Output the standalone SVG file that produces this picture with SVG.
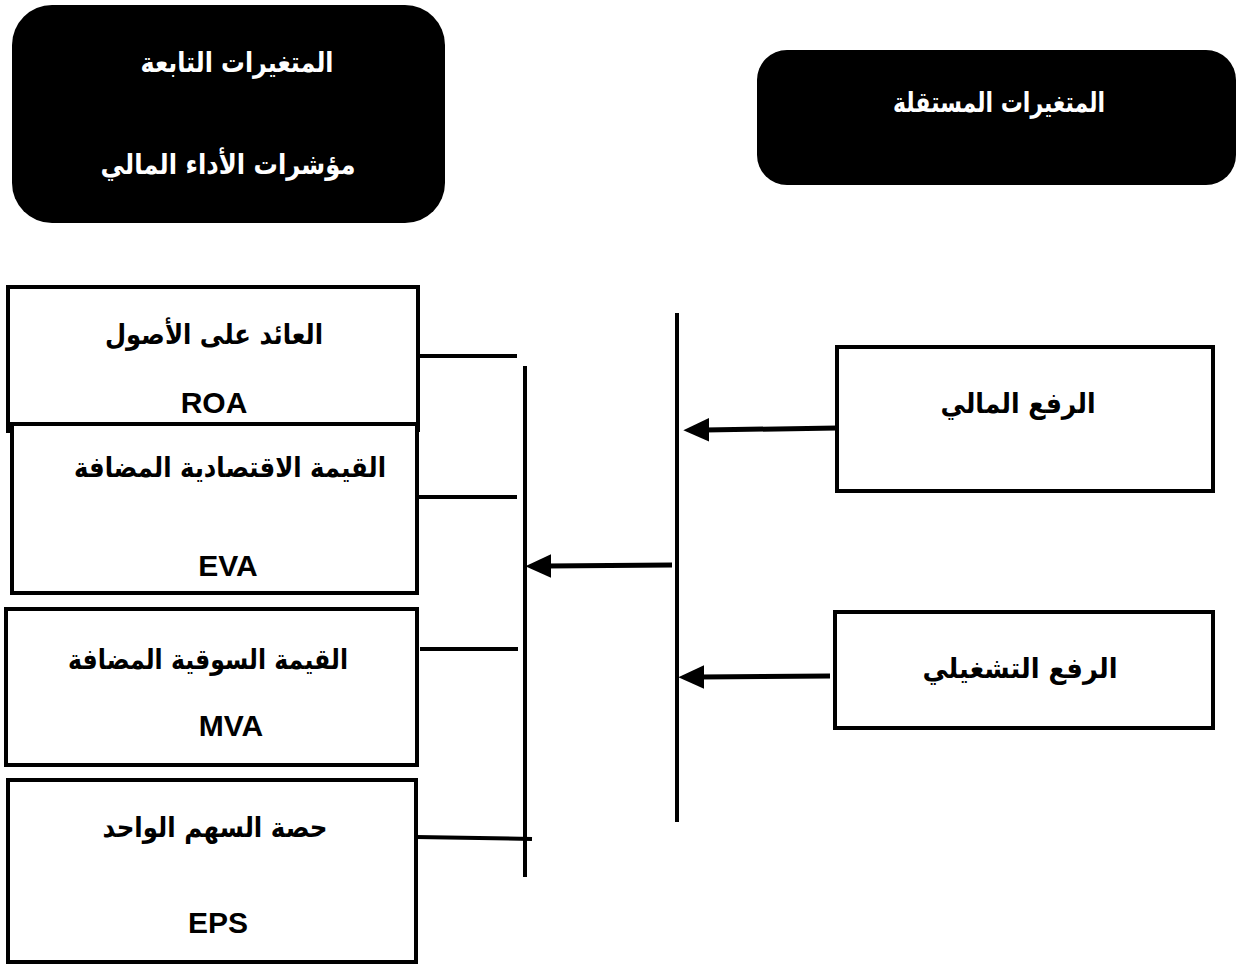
<svg xmlns="http://www.w3.org/2000/svg" width="1236" height="965" viewBox="0 0 1236 965">
<style>
.box{fill:#fff;stroke:#000;stroke-width:4;}
.hdr{fill:#000;stroke:none;}
.ar{font-family:"DejaVu Sans","Noto Sans",sans-serif;font-weight:bold;font-size:28px;text-anchor:middle;fill:#000;}
.arw{font-family:"DejaVu Sans","Noto Sans",sans-serif;font-weight:bold;font-size:28px;text-anchor:middle;fill:#fff;}
.lat{font-family:"Liberation Sans",Arial,sans-serif;font-weight:bold;font-size:30px;text-anchor:middle;fill:#000;}
.ln{stroke:#000;stroke-width:4;fill:none;}
.arrow{stroke:#000;stroke-width:5;fill:none;marker-end:url(#ah);}
</style>
<defs>
<marker id="ah" markerUnits="userSpaceOnUse" markerWidth="26" markerHeight="24" refX="4" refY="11" orient="auto" viewBox="0 0 24 22">
<path d="M0,0 L24,11 L0,22 z" fill="#000"/>
</marker>
</defs>
<rect width="1236" height="965" fill="#fff"/>

<g id="dependent-header">
<rect class="hdr" x="12" y="5" width="433" height="218" rx="40" ry="40"/>
<text class="arw" x="237" y="72" textLength="193" lengthAdjust="spacingAndGlyphs">المتغيرات التابعة</text>
<text class="arw" x="228" y="174" textLength="255" lengthAdjust="spacingAndGlyphs">مؤشرات الأداء المالي</text>
</g>

<g id="independent-header">
<rect class="hdr" x="757" y="50" width="479" height="135" rx="30" ry="30"/>
<text class="arw" x="999" y="112" textLength="212" lengthAdjust="spacingAndGlyphs">المتغيرات المستقلة</text>
</g>

<g id="roa">
<rect class="box" x="8" y="287" width="410" height="143"/>
<line class="ln" x1="8" y1="428" x2="8" y2="433"/>
<text class="ar" x="214" y="344" textLength="218" lengthAdjust="spacingAndGlyphs">العائد على الأصول</text>
<text class="lat" x="214" y="413">ROA</text>
</g>

<g id="eva">
<rect class="box" x="12" y="424" width="405" height="169"/>
<text class="ar" x="230" y="477" textLength="312" lengthAdjust="spacingAndGlyphs">القيمة الاقتصادية المضافة</text>
<text class="lat" x="228" y="576">EVA</text>
</g>

<g id="mva">
<rect class="box" x="6" y="609" width="411" height="156"/>
<text class="ar" x="208" y="669" textLength="280" lengthAdjust="spacingAndGlyphs">القيمة السوقية المضافة</text>
<text class="lat" x="231" y="736">MVA</text>
</g>

<g id="eps">
<rect class="box" x="8" y="780" width="408" height="182"/>
<text class="ar" x="215" y="837" textLength="225" lengthAdjust="spacingAndGlyphs">حصة السهم الواحد</text>
<text class="lat" x="218" y="933">EPS</text>
</g>

<g id="financial-leverage">
<rect class="box" x="837" y="347" width="376" height="144"/>
<text class="ar" x="1018" y="413" textLength="155" lengthAdjust="spacingAndGlyphs">الرفع المالي</text>
</g>

<g id="operating-leverage">
<rect class="box" x="835" y="612" width="378" height="116"/>
<text class="ar" x="1020" y="678" textLength="195" lengthAdjust="spacingAndGlyphs">الرفع التشغيلي</text>
</g>

<g id="connectors">
<line class="ln" x1="677" y1="313" x2="677" y2="822"/>
<line class="ln" x1="525" y1="366" x2="525" y2="877"/>
<line class="ln" x1="418" y1="356" x2="517" y2="356"/>
<line class="ln" x1="418" y1="497" x2="517" y2="497"/>
<line class="ln" x1="420" y1="649" x2="518" y2="649"/>
<line class="ln" x1="416" y1="837" x2="532" y2="839"/>
<line class="arrow" x1="837" y1="428" x2="705" y2="430"/>
<line class="arrow" x1="830" y1="676" x2="700" y2="677"/>
<line class="arrow" x1="672" y1="565" x2="547" y2="566"/>
</g>
</svg>
